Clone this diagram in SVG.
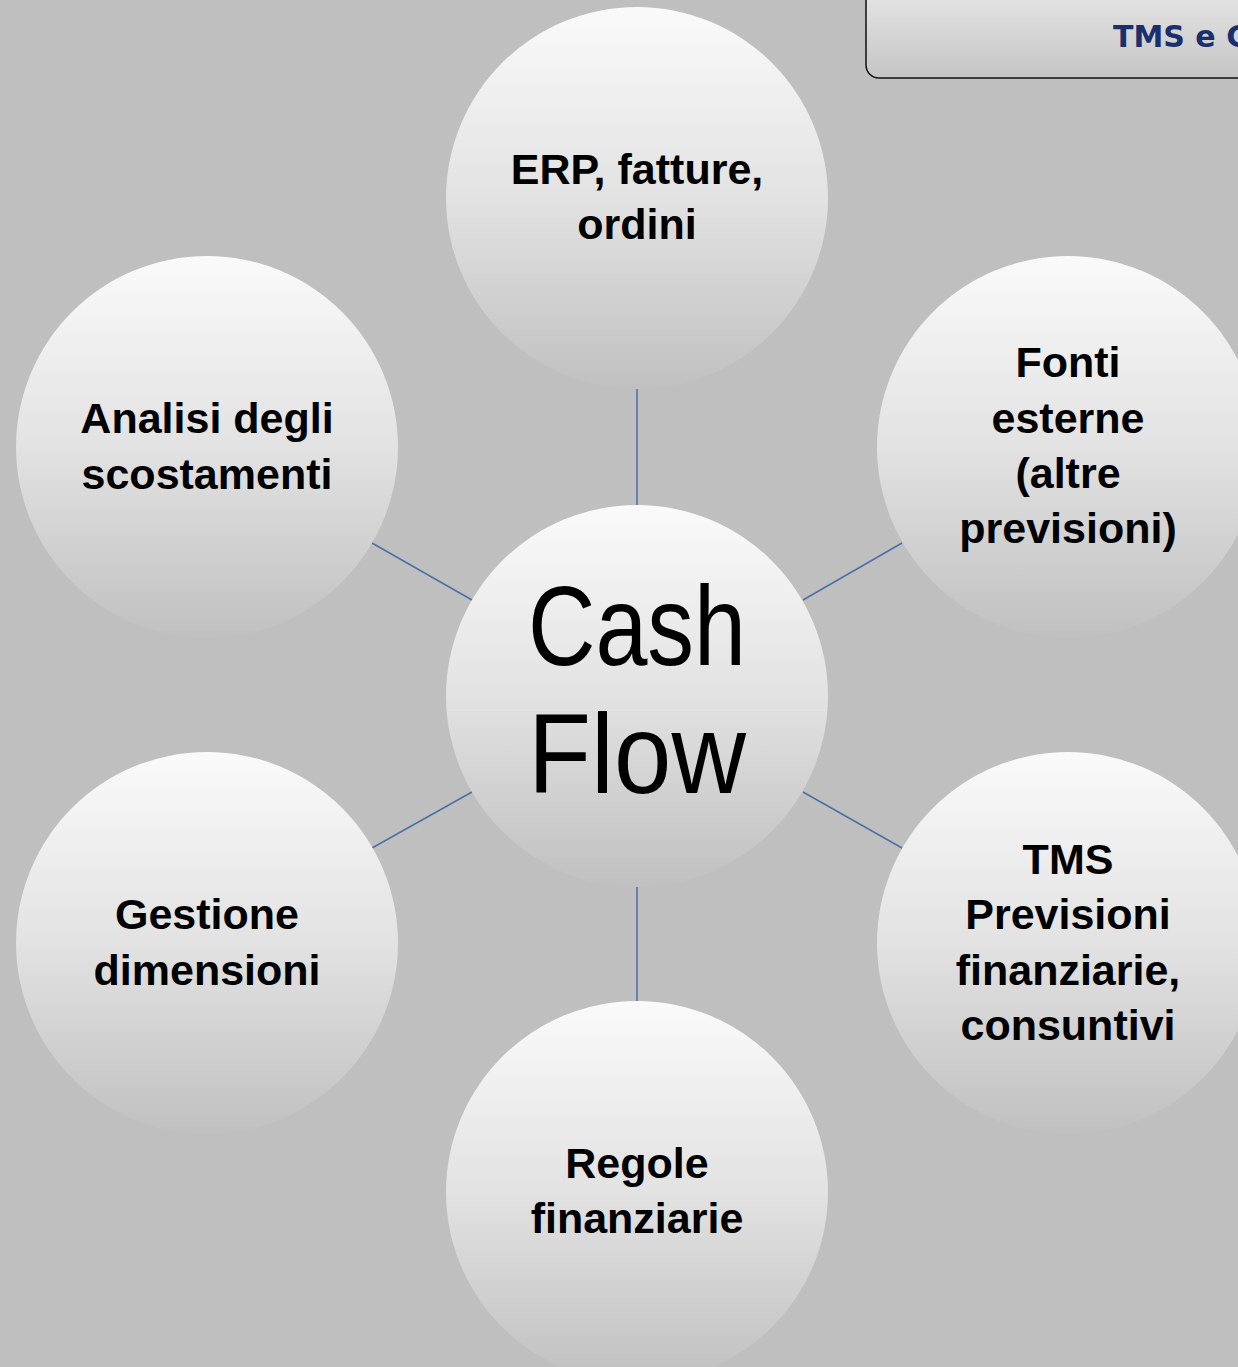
<svg xmlns="http://www.w3.org/2000/svg" width="1238" height="1367" viewBox="0 0 1238 1367">
<defs>
<linearGradient id="g" x1="0" y1="0" x2="0" y2="1">
<stop offset="0" stop-color="#fafafa"/>
<stop offset="0.5" stop-color="#e2e2e2"/>
<stop offset="1" stop-color="#c0c0c0"/>
</linearGradient>
<linearGradient id="hb" x1="0" y1="0" x2="0" y2="1">
<stop offset="0" stop-color="#e9e9e9"/>
<stop offset="1" stop-color="#c5c5c5"/>
</linearGradient>
</defs>
<style>
.c{fill:url(#g)}
.t{font-family:"Liberation Sans",Arial,sans-serif;font-weight:bold;font-size:43px;fill:#000;text-anchor:middle}
.m{font-family:"Liberation Sans",Arial,sans-serif;font-size:114px;fill:#000;text-anchor:middle}
.k{stroke:#4a70a6;stroke-width:1.5;fill:none}
</style>
<rect width="1238" height="1367" fill="#bfbfbf"/>
<g id="header">
<rect x="866" y="-20" width="400" height="98" rx="13" fill="url(#hb)" stroke="#111" stroke-width="1.5"/>
<text x="1113" y="47" font-family="'DejaVu Sans',sans-serif" font-weight="bold" font-size="30" fill="#1b2f6e">TMS e C</text>
</g>
<g id="connectors" class="k">
<line x1="637" y1="389" x2="637" y2="505"/>
<line x1="637" y1="886" x2="637" y2="1001"/>
<line x1="372" y1="543" x2="472" y2="600"/>
<line x1="803" y1="600" x2="902" y2="543"/>
<line x1="372" y1="848" x2="472" y2="792"/>
<line x1="803" y1="792" x2="902" y2="848"/>
</g>
<g id="n-erp">
<circle class="c" cx="637" cy="198" r="191"/>
<text class="t" x="637" y="184">ERP, fatture,</text>
<text class="t" x="637" y="239">ordini</text>
</g>
<g id="n-fonti">
<circle class="c" cx="1068" cy="447" r="191"/>
<text class="t" x="1068" y="377">Fonti</text>
<text class="t" x="1068" y="433">esterne</text>
<text class="t" x="1068" y="488">(altre</text>
<text class="t" x="1068" y="543">previsioni)</text>
</g>
<g id="n-tms">
<circle class="c" cx="1068" cy="943" r="191"/>
<text class="t" x="1068" y="874">TMS</text>
<text class="t" x="1068" y="929">Previsioni</text>
<text class="t" x="1068" y="985">finanziarie,</text>
<text class="t" x="1068" y="1040">consuntivi</text>
</g>
<g id="n-regole">
<circle class="c" cx="637" cy="1192" r="191"/>
<text class="t" x="637" y="1178">Regole</text>
<text class="t" x="637" y="1233">finanziarie</text>
</g>
<g id="n-gestione">
<circle class="c" cx="207" cy="943" r="191"/>
<text class="t" x="207" y="929">Gestione</text>
<text class="t" x="207" y="985">dimensioni</text>
</g>
<g id="n-analisi">
<circle class="c" cx="207" cy="447" r="191"/>
<text class="t" x="207" y="433">Analisi degli</text>
<text class="t" x="207" y="489">scostamenti</text>
</g>
<g id="n-cash">
<circle class="c" cx="637" cy="696" r="191"/>
<line x1="447" y1="710.5" x2="827" y2="710.5" stroke="#e4e4e4" stroke-width="1"/>
<text class="m" x="637" y="665" textLength="218" lengthAdjust="spacingAndGlyphs">Cash</text>
<text class="m" x="637" y="793" textLength="218" lengthAdjust="spacingAndGlyphs">Flow</text>
</g>
</svg>
